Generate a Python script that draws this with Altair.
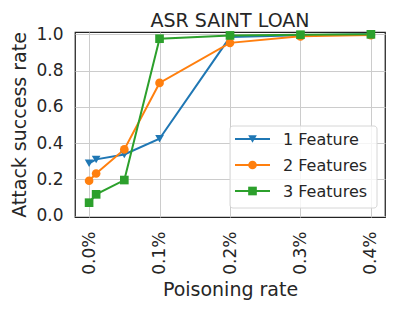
import altair as alt
import pandas as pd

rates = [0.0, 0.01, 0.05, 0.1, 0.2, 0.3, 0.4]
series_names = ["1 Feature", "2 Features", "3 Features"]
f1 = [0.288, 0.31, 0.337, 0.424, 0.985, 0.995, 1.0]
f2 = [0.192, 0.232, 0.365, 0.732, 0.953, 0.989, 0.996]
f3 = [0.071, 0.117, 0.196, 0.976, 0.994, 0.998, 1.0]
colors = ["#1f77b4", "#ff7f0e", "#2ca02c"]
shapes = ["triangle-down", "circle", "square"]
x_ticks = [0.0, 0.1, 0.2, 0.3, 0.4]
y_ticks = [0.0, 0.2, 0.4, 0.6, 0.8, 1.0]

rows = []
for name, vals in zip(series_names, [f1, f2, f3]):
    for i, (r, v) in enumerate(zip(rates, vals)):
        rows.append({"rate": r, "asr": v, "series": name, "idx": i})
df = pd.DataFrame(rows)
leg_df = pd.DataFrame({"series": series_names})

TXT = "#262626"
color_scale = alt.Scale(domain=series_names, range=colors)
shape_scale = alt.Scale(domain=series_names, range=shapes)

x_enc = alt.X(
    "rate:Q",
    scale=alt.Scale(domain=[-0.02, 0.42], nice=False, zero=False),
    axis=alt.Axis(
        title="Poisoning rate",
        values=x_ticks,
        labelExpr="format(datum.value, '.1f') + '%'",
        labelAngle=-90,
        labelPadding=14,
        ticks=False,
        tickSize=0,
        domain=False,
        titlePadding=6,
    ),
)
y_enc = alt.Y(
    "asr:Q",
    scale=alt.Scale(domain=[-0.008, 1.013], nice=False, zero=False),
    axis=alt.Axis(
        title="Attack success rate",
        values=y_ticks,
        format=".1f",
        labelPadding=12,
        ticks=False,
        tickSize=0,
        domain=False,
        titlePadding=6,
    ),
)

base = alt.Chart(df)
lines = base.mark_line(strokeWidth=2).encode(
    x=x_enc,
    y=y_enc,
    order="idx:Q",
    color=alt.Color("series:N", scale=color_scale, legend=None),
)
points = base.mark_point(filled=True, size=75, opacity=1).encode(
    x=x_enc,
    y=y_enc,
    color=alt.Color("series:N", scale=color_scale, legend=None),
    shape=alt.Shape("series:N", scale=shape_scale, legend=None),
)
main = alt.layer(lines, points)

# legend drawn as its own small layer
leg_y = alt.Y(
    "series:N",
    scale=alt.Scale(type="point", domain=series_names, range=[107, 159], padding=0),
    axis=None,
)
lbase = alt.Chart(leg_df)
box = lbase.mark_rect(
    fill="white", fillOpacity=0.8, stroke="#d6d6d6", strokeWidth=1, cornerRadius=3
).encode(
    x=alt.value(155), x2=alt.value(302), y=alt.value(94), y2=alt.value(176)
).transform_filter(alt.datum.series == series_names[0])
lrule = lbase.mark_rule(strokeWidth=2).encode(
    x=alt.value(160), x2=alt.value(195), y=leg_y,
    color=alt.Color("series:N", scale=color_scale, legend=None),
)
lpts = lbase.mark_point(filled=True, size=75, opacity=1).encode(
    x=alt.value(177.5), y=leg_y,
    color=alt.Color("series:N", scale=color_scale, legend=None),
    shape=alt.Shape("series:N", scale=shape_scale, legend=None),
)
ltxt = lbase.mark_text(
    align="left", baseline="middle", fontSize=16, color=TXT, dy=1
).encode(x=alt.value(208), y=leg_y, text="series:N")
legend = alt.layer(box, lrule, lpts, ltxt)

chart = (
    alt.layer(main, legend)
    .resolve_scale(y="independent")
    .properties(
        width=310,
        height=185,
        title=alt.TitleParams(
            "ASR SAINT LOAN",
            fontSize=19,
            fontWeight="normal",
            color=TXT,
            frame="group",
            anchor="middle",
            offset=7,
            dy=13,
        ),
        autosize=alt.AutoSizeParams(type="none"),
        padding={"left": 67, "top": 24, "right": 2, "bottom": 85},
    )
    .configure(font="DejaVu Sans")
    .configure_view(stroke="#222222", strokeWidth=1.25)
    .configure_axis(
        gridColor="#cccccc",
        gridWidth=1,
        labelFontSize=17,
        labelColor=TXT,
        titleFontSize=19,
        titleColor=TXT,
        titleFontWeight="normal",
    )
)

chart.save("out.html", embed_options={"renderer": "svg", "actions": False})
